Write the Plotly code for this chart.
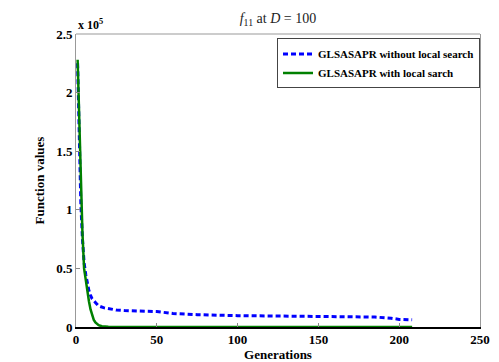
import plotly.graph_objects as go

# Generations and function values (raw units)
gen_blue = [1, 2, 3, 4, 5, 6, 7, 8, 9, 10, 12, 14, 17, 20, 25, 30, 40, 50, 60, 75,
            100, 125, 150, 175, 185, 195, 200, 208]
val_blue = [225000, 150000, 105000, 75000, 55000, 45000, 37000, 31000, 27000, 24000,
            21000, 18000, 16500, 15500, 14500, 14000, 13500, 13200, 11500, 10500,
            9700, 9500, 9300, 9000, 8500, 7500, 6500, 6200]

gen_green = [1, 2, 3, 4, 5, 6, 7, 8, 9, 10, 11, 12, 13, 14, 16, 20, 30, 50, 100, 150, 208]
val_green = [228000, 175000, 120000, 80000, 50000, 40000, 30000, 22000, 15000, 10000,
             6000, 4000, 2500, 1500, 600, 200, 50, 20, 10, 10, 10]

name_blue = "GLSASAPR without local search"
name_green = "GLSASAPR with local sarch"

y_ticks = [0, 50000, 100000, 150000, 200000, 250000]
y_tick_text = ["0", "0.5", "1", "1.5", "2", "2.5"]
x_ticks = [0, 50, 100, 150, 200, 250]

serif = "Liberation Serif"

fig = go.Figure()
fig.add_trace(go.Scatter(x=gen_blue, y=val_blue, mode="lines", name="<b>" + name_blue + "</b>",
                         line=dict(color="#0000ff", width=3, dash="5px,3px")))
fig.add_trace(go.Scatter(x=gen_green, y=val_green, mode="lines", name="<b>" + name_green + "</b>",
                         line=dict(color="#008000", width=2.5)))

fig.update_layout(
    width=499, height=362,
    margin=dict(l=68, r=27, t=26, b=40),
    paper_bgcolor="white", plot_bgcolor="white",
    font=dict(family=serif, color="black", size=12),
    title=dict(text="<i>f</i><sub>11</sub> at <i>D</i> = 100", x=0.541, xanchor="center",
               y=0.985, yanchor="top", font=dict(family=serif, size=14, color="#222")),
    showlegend=True,
    legend=dict(x=1, xanchor="right", y=0.985, yanchor="top",
                bgcolor="white", bordercolor="#444", borderwidth=1,
                font=dict(family=serif, size=11, color="black"),
                tracegroupgap=0, itemwidth=30),
    xaxis=dict(range=[0, 250], tickvals=x_ticks, ticktext=["<b>%d</b>" % v for v in x_ticks],
               showgrid=False, zeroline=False,
               showline=True, linecolor="black", linewidth=1.5, mirror=False,
               ticks="inside", ticklen=4, tickcolor="#888",
               tickfont=dict(family=serif, size=13),
               title=dict(text="<b>Generations</b>", font=dict(family=serif, size=13), standoff=2)),
    yaxis=dict(range=[0, 250000], tickvals=y_ticks, ticktext=["<b>%s</b>" % t for t in y_tick_text],
               showgrid=False,
               zeroline=False, showline=True, linecolor="#999", linewidth=1, mirror=True,
               ticks="inside", ticklen=4, tickcolor="#888",
               tickfont=dict(family=serif, size=13),
               title=dict(text="<b>Function values</b>", font=dict(family=serif, size=13), standoff=8)),
    shapes=[dict(type="line", xref="paper", yref="paper", x0=0, x1=1, y0=1, y1=1,
                 line=dict(color="#999", width=1))],
    annotations=[dict(text="<b>x 10<sup>5</sup></b>", xref="paper", yref="paper",
                      x=0, y=1, xanchor="left", yanchor="bottom", showarrow=False,
                      font=dict(family=serif, size=12, color="black"))],
)

fig.write_html("out.html")
